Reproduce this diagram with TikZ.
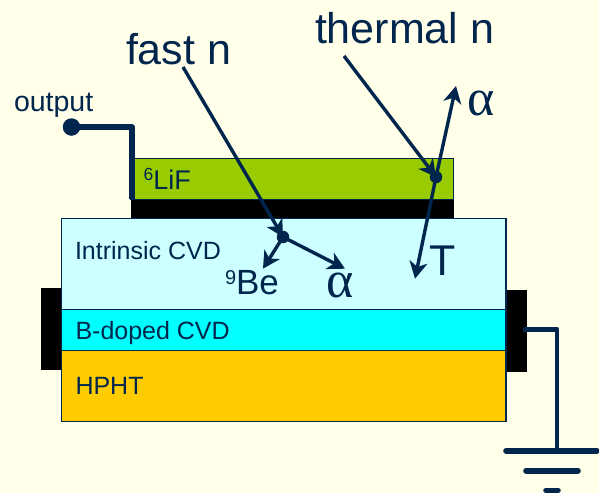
\documentclass[tikz,border=0pt]{standalone}
\usepackage{fontspec}
\setmainfont{Liberation Sans}
\newfontfamily\alphafont{Liberation Serif}
\usetikzlibrary{arrows.meta}
\definecolor{bgc}{HTML}{FFFFEA}
\definecolor{navy}{HTML}{00264D}
\definecolor{lifc}{HTML}{99CC00}
\definecolor{intc}{HTML}{CCFFFF}
\definecolor{bdc}{HTML}{00FFFF}
\definecolor{hphtc}{HTML}{FFCC00}
\newcommand{\fsz}[1]{\fontsize{#1}{#1}\selectfont}
\newcommand{\upidx}[3]{\raisebox{#2}{\fsz{#1}#3}}
\tikzset{
  x=1pt,y=-1pt,
  lbl/.style={anchor=base west,inner sep=0pt,outer sep=0pt,text=navy},
  big/.style={lbl,font=\fsz{43}},
  alf/.style={lbl,font=\alphafont\fsz{52}},
  layer/.style={draw=navy,line width=1.2pt},
  blk/.style={fill=black,draw=none},
  wire/.style={draw=navy,line width=5.5pt,line join=round},
  thin wire/.style={draw=navy,line width=4.8pt,line join=round,line cap=round},
  gnd/.style={draw=navy,line width=5.6pt,line cap=round},
  ray/.style={draw=navy,line width=3.4pt,-{Stealth[length=17pt,width=18pt,inset=5pt]}},
  blob/.style={circle,fill=navy,inner sep=0pt,minimum size=#1},
}
\begin{document}
\begin{tikzpicture}
\useasboundingbox[fill=bgc] (0,0) rectangle (599,493);
% contacts
\path[blk] (41,288) rectangle (62,370);
\path[blk] (506,289.5) rectangle (527,371.5);
% layers
\path[blk] (130.5,199) rectangle (454,219);
\path[layer,fill=lifc] (131,158.7) rectangle (453.7,199.5);
\path[layer,fill=intc] (61.7,218.7) rectangle (506,309.8);
\path[layer,fill=bdc] (61.7,309.8) rectangle (506,350.5);
\path[layer,fill=hphtc] (61.7,350.5) rectangle (506,421.7);
% output
\node[blob=17.5pt] (out) at (71.5,127) {};
\coordinate (outc) at (132,127);
\coordinate (oute) at (132,199);
\draw[wire] (out.center) -- (outc) -- (oute);
% ground
\coordinate (gs) at (525,329.3);
\coordinate (gc) at (557,329.3);
\coordinate (ge) at (557,450.7);
\draw[thin wire] (gs) -- (gc) -- (ge);
\coordinate (g1a) at (506,450.7); \coordinate (g1b) at (597,450.7);
\coordinate (g2a) at (526,470.7); \coordinate (g2b) at (578,470.7);
\coordinate (g3a) at (546,490.3); \coordinate (g3b) at (558,490.3);
\draw[gnd] (g1a) -- (g1b);
\draw[gnd] (g2a) -- (g2b);
\draw[gnd] (g3a) -- (g3b);
% labels
\node[lbl,font=\fsz{28.5}] (outl) at (14,111) {output};
\node[big] (fast) at (126,64) {fast n};
\node[big] (therm) at (315,43) {thermal n};
\node[alf] (a1) at (467,115) {α};
\node[alf] (a2) at (326,297) {α};
\node[big] (tl) at (429,275.7) {T};
\node[lbl,font=\fsz{27}] (lif) at (143.7,189) {\upidx{17.5}{9pt}{6}LiF};
\node[lbl,font=\fsz{35}] (be) at (225,294.7) {\upidx{20}{10pt}{9}Be};
\node[lbl,font=\fsz{25}] (intl) at (75,259) {Intrinsic CVD};
\node[lbl,font=\fsz{25}] (bdl) at (75.5,339.7) {B-doped CVD};
\node[lbl,font=\fsz{25}] (hl) at (75.5,394) {HPHT};
% rays
\node[blob=12.5pt] (d1) at (283,237) {};
\node[blob=12.5pt] (d2) at (436,177) {};
\coordinate (fs) at (183,67);
\coordinate (ts) at (344,56);
\coordinate (bet) at (263,268.7);
\coordinate (at1) at (345,268.7);
\coordinate (at2) at (456,86);
\coordinate (tt) at (415,278.7);
\draw[ray] (fs) -- (d1.center);
\draw[ray] (d1.center) -- (bet);
\draw[ray] (d1.center) -- (at1);
\draw[ray] (ts) -- (d2.center);
\draw[ray] (d2.center) -- (at2);
\draw[ray] (d2.center) -- (tt);
\end{tikzpicture}
\end{document}
